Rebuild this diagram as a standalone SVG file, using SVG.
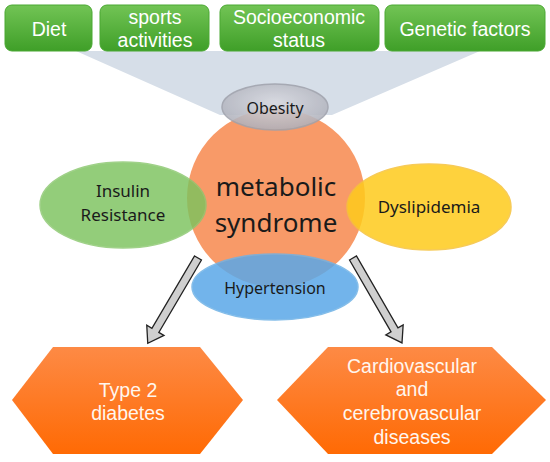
<svg xmlns="http://www.w3.org/2000/svg" width="550" height="462" viewBox="0 0 550 462">
<defs>
<linearGradient id="gGreen" x1="0" y1="0" x2="0" y2="1"><stop offset="0" stop-color="#72c455"/><stop offset="1" stop-color="#3f9f28"/></linearGradient>
<linearGradient id="gHex" x1="0" y1="0" x2="0" y2="1"><stop offset="0" stop-color="#fd8a45"/><stop offset="1" stop-color="#ff6a04"/></linearGradient>
<radialGradient id="gGray" cx="0.5" cy="0.4" r="0.6"><stop offset="0" stop-color="#d8d9e0"/><stop offset="1" stop-color="#aeb0ba"/></radialGradient>
<style>
.box{fill:url(#gGreen);stroke:#4aa832;stroke-width:1}
.bt{font-family:"Liberation Sans",Arial,sans-serif;font-size:19.5px;fill:#fff;text-anchor:middle}
.et{font-family:"Noto Sans","DejaVu Sans",sans-serif;fill:#1a1a1a;text-anchor:middle}
.hex{fill:url(#gHex)}
.ht{font-family:"Liberation Sans",Arial,sans-serif;font-size:19.5px;fill:#fff6ee;text-anchor:middle}
.arr{fill:#cfcfcf;stroke:#222;stroke-width:1.3}
</style>
</defs>
<rect width="550" height="462" fill="#fff"/>
<g id="funnel"><polygon points="76,51 480,51 332,115 220,115" fill="#d6dee8"/></g>
<g id="diet"><rect class="box" x="5" y="5" width="87" height="46" rx="7"/><text class="bt" x="49" y="36">Diet</text></g>
<g id="sports"><rect class="box" x="100" y="5" width="109" height="46" rx="7"/><text class="bt" x="155" y="24">sports</text><text class="bt" x="155" y="47">activities</text></g>
<g id="socio"><rect class="box" x="220" y="5" width="159" height="46" rx="7"/><text class="bt" x="299" y="24">Socioeconomic</text><text class="bt" x="299" y="47">status</text></g>
<g id="genetic"><rect class="box" x="385" y="5" width="160" height="46" rx="7"/><text class="bt" x="465" y="36">Genetic factors</text></g>
<g id="metabolic"><circle cx="276" cy="198" r="89" fill="#f89a68"/><text class="et" x="276" y="196" font-size="26">metabolic</text><text class="et" x="276" y="232" font-size="26">syndrome</text></g>
<g id="obesity"><ellipse cx="275" cy="107" rx="53" ry="23" fill="url(#gGray)" stroke="#a0a2ac" stroke-width="1.5" opacity="0.88"/><text class="et" x="275" y="114" font-size="16">Obesity</text></g>
<g id="insulin"><ellipse cx="123" cy="205" rx="83" ry="43" fill="#7cc35e" stroke="#8cc870" stroke-width="1.5" opacity="0.82"/><text class="et" x="123" y="197" font-size="17">Insulin</text><text class="et" x="123" y="221" font-size="17">Resistance</text></g>
<g id="dyslipidemia"><ellipse cx="429" cy="207" rx="82" ry="43" fill="#fecb1c" stroke="#f6c23a" stroke-width="1.5" opacity="0.85"/><text class="et" x="429" y="213" font-size="17">Dyslipidemia</text></g>
<g id="hypertension"><ellipse cx="275" cy="287" rx="83" ry="33" fill="#5aa8e8" stroke="#6fb2e6" stroke-width="1.5" opacity="0.85"/><text class="et" x="275" y="294" font-size="16">Hypertension</text></g>
<g id="connectors">
<polygon class="arr" transform="translate(198,258) rotate(30.5)" points="-4,0 4,0 4,84 10,84 0,99 -10,84 -4,84"/>
<polygon class="arr" transform="translate(353,258) rotate(-30)" points="-4,0 4,0 4,83 10,83 0,98 -10,83 -4,83"/>
</g>
<g id="diabetes"><polygon class="hex" points="12,400 53,347 200,347 243,400 200,454 53,454"/><text class="ht" x="128" y="397">Type 2</text><text class="ht" x="128" y="420">diabetes</text></g>
<g id="cardio"><polygon class="hex" points="277,400 328,347 492,347 546,400 492,454 328,454"/><text class="ht" x="412" y="373">Cardiovascular</text><text class="ht" x="412" y="396">and</text><text class="ht" x="412" y="420">cerebrovascular</text><text class="ht" x="412" y="444">diseases</text></g>
</svg>
